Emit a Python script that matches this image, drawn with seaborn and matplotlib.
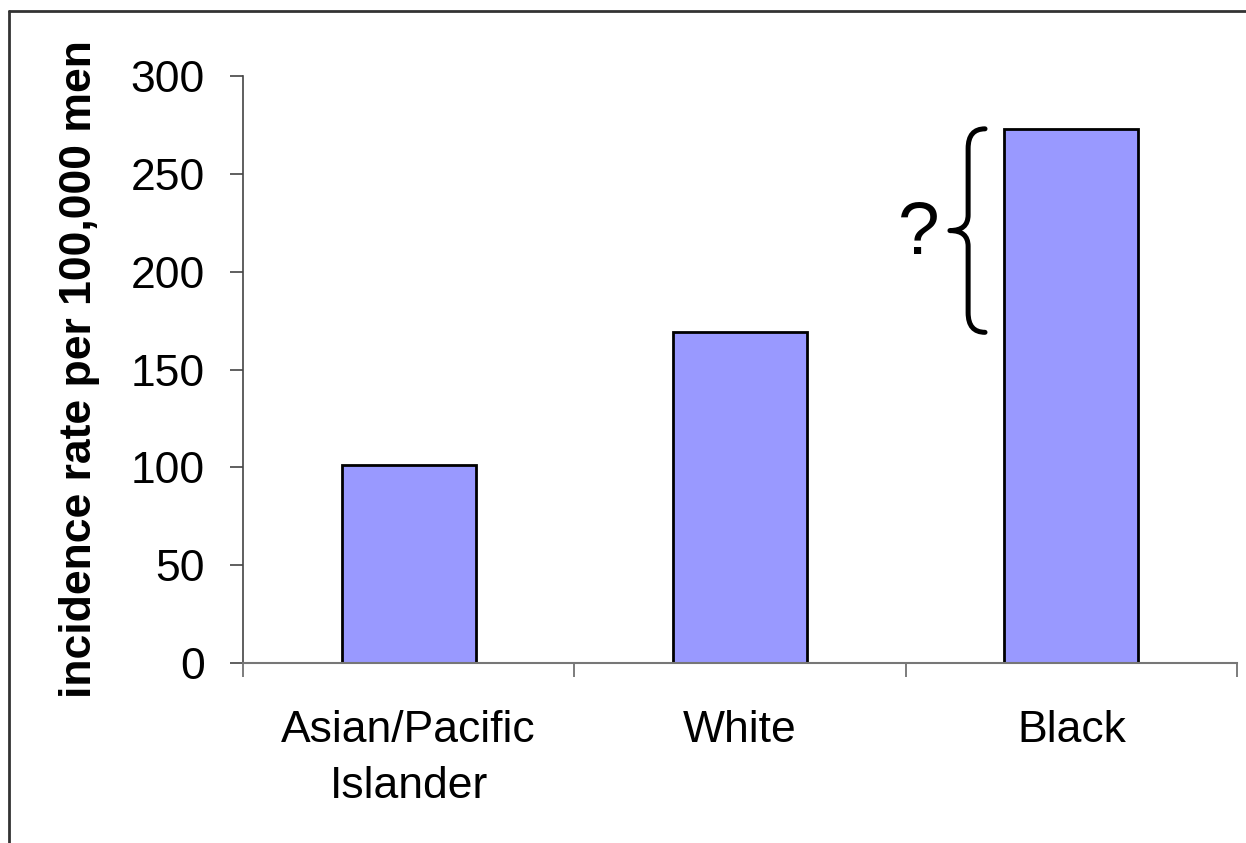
import matplotlib
matplotlib.use("Agg")
import matplotlib.pyplot as plt
from matplotlib.path import Path
from matplotlib.patches import PathPatch
from matplotlib.lines import Line2D
import seaborn as sns
import pandas as pd

# Prostate cancer incidence by race
groups = ["Asian/Pacific\nIslander", "White", "Black"]
rates = [101, 169, 273]
y_ticks = [0, 50, 100, 150, 200, 250, 300]

sns.set_theme(style="white")
plt.rcParams["font.family"] = ["Liberation Sans", "DejaVu Sans"]
plt.rcParams["text.color"] = "black"
plt.rcParams["axes.labelcolor"] = "black"
plt.rcParams["xtick.color"] = "black"
plt.rcParams["ytick.color"] = "black"

df = pd.DataFrame({"group": groups, "rate": rates})

fig = plt.figure(figsize=(12.46, 8.43), dpi=100)
ax = fig.add_axes([243 / 1246, 1 - 663 / 843, (1237 - 243) / 1246, (663 - 76) / 843])

bar_width = 0.405
sns.barplot(data=df, x="group", y="rate", color="#9999FF", saturation=1,
            width=bar_width, edgecolor="black", linewidth=2.0, ax=ax)

ax.set_xlim(-0.5, len(groups) - 0.5)
ax.set_ylim(0, 300)
ax.set_yticks(y_ticks)
ax.set_yticklabels([str(t) for t in y_ticks], fontsize=32, color="black")

# category boundaries carry the tick marks, labels sit at the centres
ax.set_xticks([i - 0.5 for i in range(len(groups) + 1)])
ax.set_xticklabels([])
ax.set_xticks(range(len(groups)), minor=True)
ax.set_xticklabels(groups, minor=True, fontsize=32, linespacing=1.45,
                   color="black")
ax.tick_params(axis="x", which="major", direction="out", length=10,
               width=1.2, color="#666666", bottom=True)
ax.tick_params(axis="x", which="minor", length=0, pad=34, bottom=True)
ax.tick_params(axis="y", direction="out", length=9.5, width=1.2,
               color="#444444", pad=18, left=True)

ax.set_xlabel("")
ax.set_ylabel("incidence rate per 100,000 men", fontsize=32,
              fontweight="bold", color="black")
ax.yaxis.set_label_coords(-0.144, 0.5)

for side in ("top", "right"):
    ax.spines[side].set_visible(False)
ax.spines["left"].set_color("#444444")
ax.spines["left"].set_linewidth(1.2)
ax.spines["bottom"].set_color("#777777")
ax.spines["bottom"].set_linewidth(1.5)

# curly brace spanning the gap between the White and Black rates
y_lo, y_hi = rates[1], rates[2]
x_right = 2 - bar_width / 2 - 0.058
x_mid = x_right - 0.051
x_tip = x_right - 0.106
y_c = (y_lo + y_hi) / 2
r_end = 10
r_mid = 8
verts = [
    (x_right, y_hi),
    (x_mid, y_hi), (x_mid, y_hi - r_end),
    (x_mid, y_c + r_mid),
    (x_mid, y_c), (x_tip, y_c),
    (x_mid, y_c), (x_mid, y_c - r_mid),
    (x_mid, y_lo + r_end),
    (x_mid, y_lo), (x_right, y_lo),
]
codes = [Path.MOVETO,
         Path.CURVE3, Path.CURVE3,
         Path.LINETO,
         Path.CURVE3, Path.CURVE3,
         Path.CURVE3, Path.CURVE3,
         Path.LINETO,
         Path.CURVE3, Path.CURVE3]
ax.add_patch(PathPatch(Path(verts, codes), facecolor="none",
                       edgecolor="black", linewidth=3.6, capstyle="round",
                       joinstyle="round", clip_on=False))
ax.text(x_tip - 0.03, y_c - 2, "?", fontsize=54, ha="right", va="center",
        color="black")

# frame lines along the top and left of the figure
fig.add_artist(Line2D([9 / 1246, 1], [1 - 11 / 843, 1 - 11 / 843],
                      transform=fig.transFigure, color="#333333", linewidth=2))
fig.add_artist(Line2D([9 / 1246, 9 / 1246], [0, 1 - 11 / 843],
                      transform=fig.transFigure, color="#333333", linewidth=2))

fig.savefig("out.png", dpi=100, facecolor="white")
